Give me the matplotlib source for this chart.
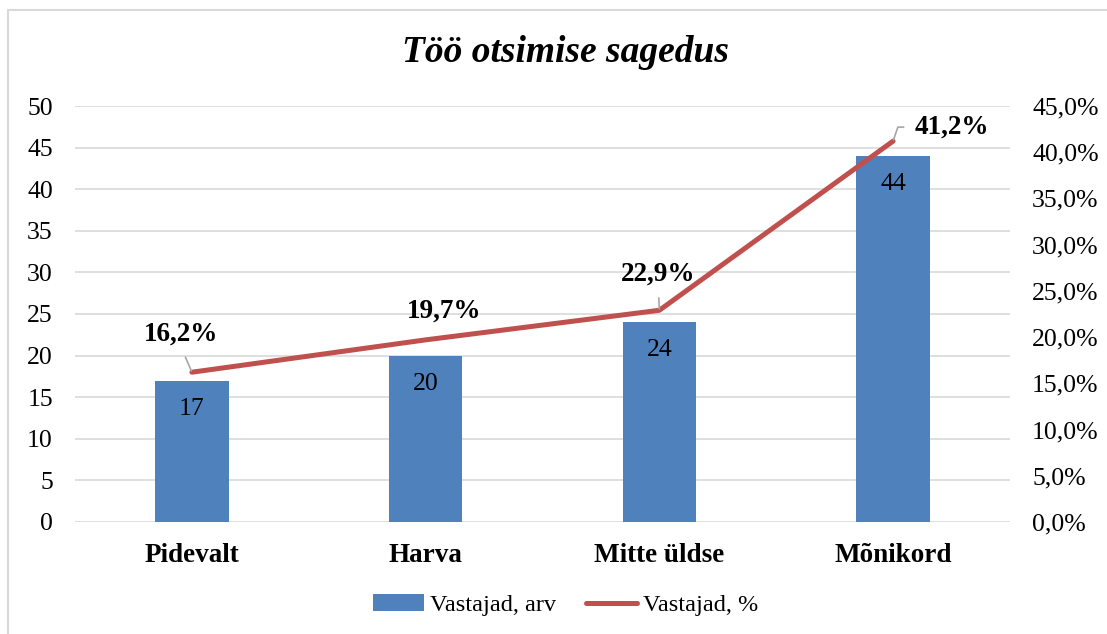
import matplotlib
matplotlib.use("Agg")
import matplotlib.pyplot as plt
from matplotlib.patches import Rectangle
from matplotlib.ticker import MultipleLocator, FuncFormatter

categories = ["Pidevalt", "Harva", "Mitte üldse", "Mõnikord"]
counts = [17, 20, 24, 44]
percents = [16.2, 19.7, 22.9, 41.2]

bar_name = "Vastajad, arv"
line_name = "Vastajad, %"
title = "Töö otsimise sagedus"

BLUE = "#4F81BD"
RED = "#C0504D"
GRID = "#D9D9D9"

plt.rcParams["font.family"] = ["Liberation Serif", "DejaVu Serif"]

fig = plt.figure(figsize=(11.07, 6.34), dpi=100)
fig.patches.append(Rectangle((8 / 1107, -0.1), 1.2, 1.1 - 10 / 634,
                             transform=fig.transFigure, fill=False,
                             edgecolor="#D9D9D9", linewidth=1.5))

ax = fig.add_axes([0.0678, 0.1767, 0.8445, 0.6561])
ax2 = ax.twinx()
ax.set_zorder(ax2.get_zorder() - 1)
ax.patch.set_visible(True)
ax2.patch.set_visible(False)

x = range(len(categories))
bars = ax.bar(x, counts, width=0.315, color=BLUE, zorder=2)
ax.set_xlim(-0.5, 3.5)
ax.set_ylim(0, 50)
ax.yaxis.set_major_locator(MultipleLocator(5))
ax.grid(axis="y", color=GRID, linewidth=1.2, zorder=0)
ax.set_xticks(list(x))
ax.set_xticklabels(categories, fontsize=19.5, fontweight="bold")
ax.tick_params(axis="x", length=0, pad=15)
ax.tick_params(axis="y", length=0, pad=16, labelsize=18.5)
for s in ax.spines.values():
    s.set_visible(False)

for xi, c in zip(x, counts):
    ax.annotate(str(c), (xi, c), xytext=(0, -28), textcoords="offset pixels",
                ha="center", va="center", fontsize=18.5)

line, = ax2.plot(list(x), [p / 100 for p in percents], color=RED,
                 linewidth=3.6, solid_capstyle="round", zorder=3)
ax2.set_ylim(0, 0.45)
ax2.yaxis.set_major_locator(MultipleLocator(0.05))
ax2.yaxis.set_major_formatter(FuncFormatter(lambda v, p: f"{v * 100:.1f}%".replace(".", ",")))
ax2.tick_params(axis="y", length=0, pad=16, labelsize=18.5)
for s in ax2.spines.values():
    s.set_visible(False)

# label offsets in pixels and leader lines
offsets = [(-11, 38), (18, 29), (-1, 36), (59, 14)]
leaders = [dict(relpos=(0.5, 0.0)), None, dict(relpos=(0.5, 0.0)),
           dict(relpos=(0.0, 0.5), connectionstyle="angle,angleA=180,angleB=71,rad=0")]
for xi, p, off, ld in zip(x, percents, offsets, leaders):
    label = f"{p:.1f}%".replace(".", ",")
    kw = {}
    if ld is not None:
        props = dict(arrowstyle="-", color="#A6A6A6", linewidth=1.2,
                     shrinkA=6, shrinkB=1)
        props.update(ld)
        kw["arrowprops"] = props
    ax2.annotate(label, (xi, p / 100), xytext=off, textcoords="offset pixels",
                 ha="center", va="center", fontsize=19.5, fontweight="bold", **kw)

fig.text(0.511, 1 - 53 / 634, title, ha="center", va="center",
         fontsize=27, fontweight="bold", fontstyle="italic")

fig.legend([bars, line], [bar_name, line_name], loc="center",
           bbox_to_anchor=(0.511, 1 - 605 / 634), ncol=2, frameon=False,
           fontsize=17.5, handlelength=2.1, handletextpad=0.25,
           columnspacing=1.25)

fig.savefig("out.png", dpi=100)
